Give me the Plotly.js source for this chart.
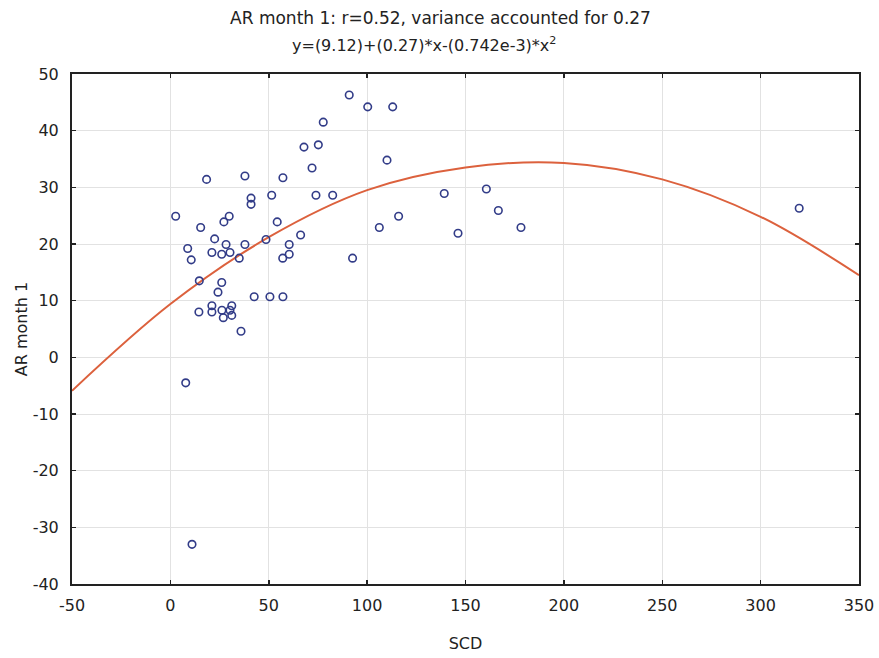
<!DOCTYPE html>
<html>
<head>
<meta charset="utf-8">
<script src="https://cdn.plot.ly/plotly-3.0.1.min.js"></script>
<style>html,body{margin:0;padding:0;background:#fff;}#chart{width:879px;height:658px;}</style>
</head>
<body>
<div id="chart"></div>
<script>
const scd = [90.9, 77.7, 67.9, 75.2, 72.0, 18.4, 37.9, 57.2, 41.0, 41.0,
             51.5, 74.0, 82.5, 2.7, 29.9, 27.2, 15.4, 54.3, 22.5, 28.3,
             37.9, 48.6, 66.2, 60.4, 8.8, 21.1, 26.1, 30.3, 60.4, 57.1,
             10.6, 35.0, 14.7, 26.1, 24.2, 42.6, 50.6, 57.2, 14.5, 21.1,
             21.1, 26.2, 26.9, 31.2, 30.3, 31.2, 35.9, 7.8, 11.0, 100.3,
             113.0, 110.1, 106.2, 116.0, 139.2, 146.2, 160.6, 166.7, 178.2, 92.6,
             319.6];
const ar  = [46.3, 41.5, 37.1, 37.5, 33.4, 31.4, 32.0, 31.7, 28.1, 27.0,
             28.6, 28.6, 28.6, 24.9, 24.9, 23.9, 22.9, 23.9, 20.9, 19.9,
             19.9, 20.8, 21.6, 19.9, 19.2, 18.5, 18.2, 18.5, 18.2, 17.5,
             17.2, 17.5, 13.5, 13.2, 11.5, 10.7, 10.7, 10.7, 8.0, 9.1,
             8.0, 8.3, 7.0, 9.1, 8.3, 7.4, 4.6, -4.5, -33.0, 44.2,
             44.2, 34.8, 22.9, 24.9, 28.9, 21.9, 29.7, 25.9, 22.9, 17.5,
             26.3];

// Fitted curve, values
const fitX = [-50, 0, 50, 100, 150, 200, 250, 300, 350];
const fitY = [-5.9, 9.4, 21.2, 29.5, 33.5, 34.3, 31.4, 24.8, 14.5];

const xTicks = [-50, 0, 50, 100, 150, 200, 250, 300, 350];
const yTicks = [-40, -30, -20, -10, 0, 10, 20, 30, 40, 50];

const titleLine1 = 'AR month 1: r=0.52, variance accounted for 0.27';
const titleLine2 = 'y=(9.12)+(0.27)*x-(0.742e-3)*x<sup>2</sup>';

const fontFam = 'DejaVu Sans, Arial, sans-serif';
const txtColor = '#222';

const traces = [
  {
    x: fitX, y: fitY, type: 'scatter', mode: 'lines',
    line: {color: '#dc613d', width: 2, shape: 'spline', smoothing: 1.0},
    hoverinfo: 'skip', showlegend: false
  },
  {
    x: scd, y: ar, type: 'scatter', mode: 'markers',
    marker: {symbol: 'circle-open', size: 7.5, color: '#323c88', line: {width: 1.6, color: '#323c88'}},
    showlegend: false
  }
];

const axisCommon = {
  showgrid: true, gridcolor: '#e2e2e2', gridwidth: 1,
  zeroline: false,
  showline: true, linecolor: '#222', linewidth: 2, mirror: 'ticks',
  ticks: 'inside', ticklen: 4, tickcolor: '#222', tickwidth: 1.5,
  tickfont: {family: fontFam, size: 16, color: txtColor}
};

const layout = {
  width: 879, height: 658,
  paper_bgcolor: '#fff', plot_bgcolor: '#fff',
  margin: {l: 72, r: 20, t: 74, b: 74},
  font: {family: fontFam, color: txtColor},
  title: {
    text: titleLine1,
    font: {family: fontFam, size: 17, color: txtColor},
    x: 440.5 / 879, xref: 'container', xanchor: 'center',
    y: 1 - 18/658, yref: 'container', yanchor: 'middle'
  },
  annotations: [{
    text: titleLine2, showarrow: false,
    xref: 'paper', x: (424 - 72) / 787, xanchor: 'center',
    yref: 'paper', y: (584 - 45) / 510, yanchor: 'middle',
    font: {family: fontFam, size: 16, color: txtColor}
  }],
  xaxis: Object.assign({}, axisCommon, {
    range: [-50, 350], tickvals: xTicks, ticktext: xTicks.map(String),
    ticklabelstandoff: 6,
    title: {text: 'SCD', font: {family: fontFam, size: 16, color: txtColor}, standoff: 24}
  }),
  yaxis: Object.assign({}, axisCommon, {
    range: [-40, 50], tickvals: yTicks, ticktext: yTicks.map(String),
    ticklabelstandoff: 8,
    title: {text: 'AR month 1', font: {family: fontFam, size: 16, color: txtColor}, standoff: 1}
  })
};

Plotly.newPlot('chart', traces, layout, {displayModeBar: false, staticPlot: true});
</script>
</body>
</html>
